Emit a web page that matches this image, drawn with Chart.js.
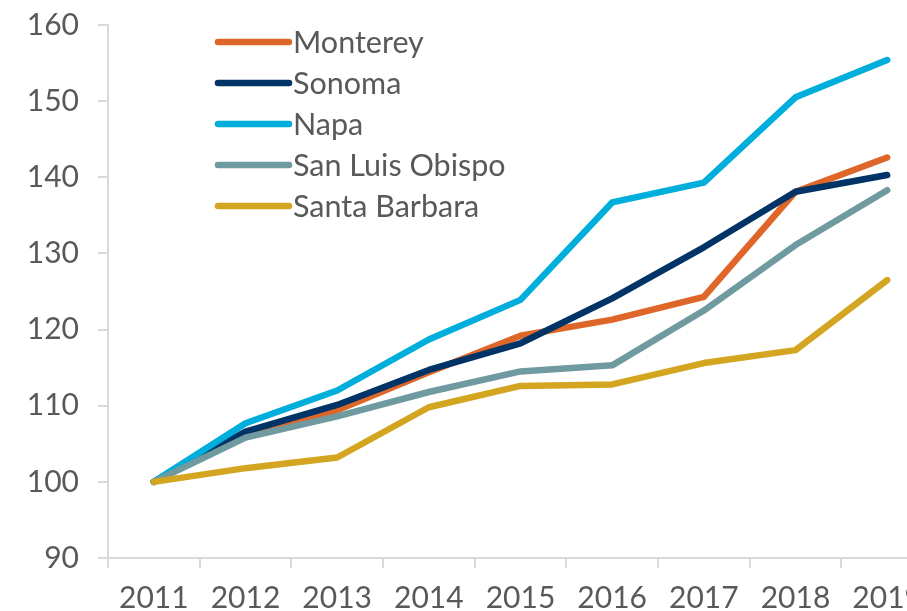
<!DOCTYPE html>
<html>
<head>
<meta charset="utf-8">
<script src="https://cdn.jsdelivr.net/npm/chart.js@4.4.1/dist/chart.umd.min.js"></script>
<style>
  html, body { margin: 0; padding: 0; overflow: hidden; background: #ffffff; width: 907px; height: 611px; }
  #wrap { position: absolute; left: 0; top: 0; width: 933px; height: 611px; }
</style>
</head>
<body>
<div id="wrap"><canvas id="c" width="933" height="611"></canvas></div>
<script>
const years = ['2011', '2012', '2013', '2014', '2015', '2016', '2017', '2018', '2019'];
const seriesNames = ['Monterey', 'Sonoma', 'Napa', 'San Luis Obispo', 'Santa Barbara'];
const monterey = [100, 106.2, 109.4, 114.4, 119.2, 121.3, 124.3, 138.1, 142.6];
const sonoma = [100, 106.6, 110.1, 114.7, 118.2, 124.1, 130.8, 138.1, 140.3];
const napa = [100, 107.7, 112.0, 118.7, 123.9, 136.7, 139.3, 150.5, 155.4];
const sanLuisObispo = [100, 105.8, 108.6, 111.8, 114.5, 115.3, 122.5, 131.1, 138.3];
const santaBarbara = [100, 101.8, 103.2, 109.8, 112.6, 112.8, 115.6, 117.3, 126.5];
const yTicks = [90, 100, 110, 120, 130, 140, 150, 160];

const colors = ['#DF6629', '#003366', '#00AEDC', '#6E9AA0', '#D4A520'];
const values = [monterey, sonoma, napa, sanLuisObispo, santaBarbara];

const FONT = 'Lato, "Open Sans", sans-serif';
const TEXT = '#595959';
const AXIS = '#d9d9d9';

const datasets = seriesNames.map((name, i) => ({
  label: name,
  data: values[i],
  borderColor: colors[i],
  backgroundColor: colors[i],
  borderWidth: 6.5,
  borderCapStyle: 'round',
  borderJoinStyle: 'round',
  pointRadius: 0,
  pointHoverRadius: 0,
  tension: 0,
  fill: false,
  order: seriesNames.length - i
}));

const insideLegend = {
  id: 'insideLegend',
  afterDatasetsDraw(chart) {
    const ctx = chart.ctx;
    const area = chart.chartArea;
    const x0 = area.left + 110;
    const lineLen = 71;
    const y0 = area.top + 17;
    const rowH = 41;
    ctx.save();
    ctx.font = '30.5px ' + FONT;
    ctx.textBaseline = 'middle';
    ctx.textAlign = 'left';
    chart.data.datasets.forEach((ds, i) => {
      const y = y0 + i * rowH;
      ctx.strokeStyle = ds.borderColor;
      ctx.lineWidth = 6.5;
      ctx.lineCap = 'round';
      ctx.beginPath();
      ctx.moveTo(x0, y);
      ctx.lineTo(x0 + lineLen, y);
      ctx.stroke();
      ctx.fillStyle = TEXT;
      ctx.fillText(ds.label, x0 + lineLen + 4, y + 1);
    });
    ctx.restore();
  }
};

new Chart(document.getElementById('c'), {
  type: 'line',
  data: { labels: years, datasets: datasets },
  plugins: [insideLegend],
  options: {
    responsive: false,
    animation: false,
    layout: { padding: { top: 25, right: 0, left: 0, bottom: 0 } },
    plugins: {
      legend: { display: false },
      tooltip: { enabled: false },
      title: { display: false }
    },
    scales: {
      x: {
        type: 'category',
        offset: true,
        grid: {
          offset: true,
          drawOnChartArea: false,
          drawTicks: true,
          tickLength: 10,
          color: AXIS,
          lineWidth: 2
        },
        border: { display: true, color: AXIS, width: 2 },
        ticks: {
          color: TEXT,
          font: { family: FONT, size: 30 },
          padding: 12,
          maxRotation: 0,
          autoSkip: false
        },
        afterFit(scale) {
          scale.height = 53;
          scale.paddingLeft = 0;
          scale.paddingRight = 0;
        }
      },
      y: {
        min: 90,
        max: 160,
        afterBuildTicks(scale) { scale.ticks = yTicks.map(v => ({ value: v })); },
        grid: {
          drawOnChartArea: false,
          drawTicks: true,
          tickLength: 10,
          color: AXIS,
          lineWidth: 2
        },
        border: { display: true, color: AXIS, width: 2 },
        ticks: {
          color: TEXT,
          font: { family: FONT, size: 30 },
          padding: 19
        },
        afterFit(scale) {
          scale.width = 108;
          scale.paddingTop = 0;
          scale.paddingBottom = 0;
        }
      }
    }
  }
});
</script>
</body>
</html>
